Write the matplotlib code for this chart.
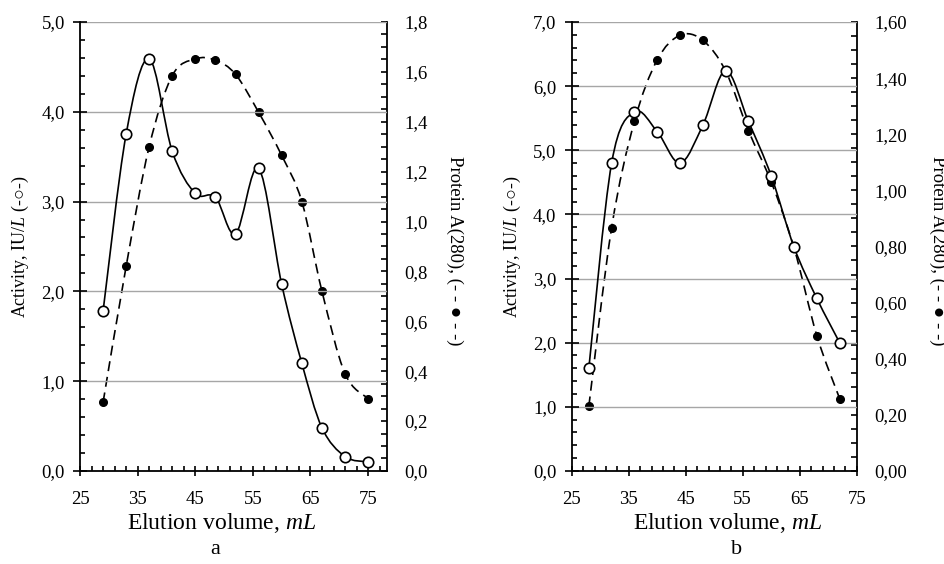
import matplotlib
matplotlib.use("Agg")
import matplotlib.pyplot as plt
import numpy as np
from matplotlib.path import Path
from matplotlib.patches import PathPatch
from matplotlib.ticker import MultipleLocator, FuncFormatter

plt.rcParams['font.family'] = ['Liberation Serif', 'DejaVu Serif']
plt.rcParams['mathtext.fontset'] = 'custom'
plt.rcParams['mathtext.rm'] = 'Liberation Serif'
plt.rcParams['mathtext.it'] = 'Liberation Serif:italic'
plt.rcParams['mathtext.fallback'] = 'stix'

# panel a
vol_a = [29, 33, 37, 41, 45, 48.5, 52, 56, 60, 63.5, 67, 71, 75]
act_a = [1.78, 3.75, 4.59, 3.56, 3.09, 3.05, 2.64, 3.37, 2.08, 1.20, 0.48, 0.16, 0.10]
prot_a = [0.275, 0.82, 1.30, 1.585, 1.652, 1.647, 1.59, 1.438, 1.265, 1.08, 0.72, 0.39, 0.29]

# panel b
vol_b = [28, 32, 36, 40, 44, 48, 52, 56, 60, 64, 68, 72]
act_b = [1.6, 4.8, 5.6, 5.29, 4.8, 5.39, 6.24, 5.45, 4.6, 3.49, 2.69, 2.0]
prot_b = [0.23, 0.867, 1.246, 1.465, 1.553, 1.535, 1.425, 1.213, 1.03, 0.795, 0.482, 0.258]


def smooth_path(x, y):
    # excel-like smoothed line: catmull-rom as cubic bezier segments
    p = np.column_stack([x, y]).astype(float)
    ext = np.vstack([p[0], p, p[-1]])
    verts = [p[0]]
    codes = [Path.MOVETO]
    for i in range(len(p) - 1):
        p0, p1, p2, p3 = ext[i], ext[i + 1], ext[i + 2], ext[i + 3]
        verts += [p1 + (p2 - p0) / 6, p2 - (p3 - p1) / 6, p2]
        codes += [Path.CURVE4] * 3
    return Path(verts, codes)


def comma(dec):
    return FuncFormatter(lambda v, pos: f"{v:.{dec}f}".replace('.', ','))


def panel(left, width, x, act, prot, xmax, ymax, y2max, y2dec, letter,
          ylx, y2lx, xlx, letx):
    ax = fig.add_axes([left, 0.165, width, 0.796])
    ax2 = ax.twinx()
    ax.set_zorder(2)
    ax2.set_zorder(1)
    ax.patch.set_visible(False)

    ax.add_patch(PathPatch(smooth_path(x, act), fill=False, color='black', lw=1.2, zorder=3))
    ax.plot(x, act, 'o', ms=7.5, mfc='white', mec='black', mew=1.2, zorder=4)
    ax2.add_patch(PathPatch(smooth_path(x, prot), fill=False, color='black', lw=1.2,
                            linestyle=(0, (6, 3.5))))
    ax2.plot(x, prot, 'o', ms=5.5, color='black')

    ax.set_xlim(25, xmax)
    ax.set_ylim(0, ymax)
    ax2.set_ylim(0, y2max)
    ax.xaxis.set_major_locator(MultipleLocator(10, offset=5))
    ax.xaxis.set_minor_locator(MultipleLocator(2, offset=1))
    ax.yaxis.set_major_locator(MultipleLocator(1))
    ax.yaxis.set_minor_locator(MultipleLocator(0.2))
    ax2.yaxis.set_major_locator(MultipleLocator(0.2))
    ax2.yaxis.set_minor_locator(MultipleLocator(0.05))
    ax.yaxis.set_major_formatter(comma(1))
    ax2.yaxis.set_major_formatter(comma(y2dec))

    ax.grid(axis='y', color='#a6a6a6', lw=1)
    for a in (ax, ax2):
        a.spines['top'].set_visible(False)
        for s in a.spines.values():
            s.set_linewidth(1.3)
    ax.spines['right'].set_visible(False)
    ax2.spines['left'].set_visible(False)
    ax2.spines['bottom'].set_visible(False)

    ax.tick_params(axis='y', which='major', direction='inout', length=10, width=1.2,
                   labelsize=13.5, pad=6)
    ax.tick_params(axis='x', which='major', direction='inout', length=7, width=1.2,
                   labelsize=13.5, pad=11)
    ax.tick_params(axis='both', which='minor', direction='in', length=3.5, width=1.2)
    ax2.tick_params(axis='y', which='both', direction='in', length=4.3, width=1.2,
                    labelsize=13.5, pad=12.5)

    ax.set_xlabel('Elution volume, $mL$', fontsize=17, va='center')
    ax.xaxis.set_label_coords(xlx, -0.117)
    ax.set_ylabel('Activity, IU/$L$ (-○-)', fontsize=13, va='center')
    ax.yaxis.set_label_coords(ylx, 0.5)
    ax2.set_ylabel('Protein A(280), (- - ● - -)', fontsize=13.5, rotation=270, va='center')
    ax2.yaxis.set_label_coords(y2lx, 0.49)
    ax.text(letx, -0.176, letter, transform=ax.transAxes, ha='center', va='center', fontsize=16)
    return ax, ax2


fig = plt.figure(figsize=(9.45, 5.64), dpi=100)
panel(0.0847, 0.3249, vol_a, act_a, prot_a, 78.3, 5, 1.8, 1, 'a',
      -0.195, 1.2215, 0.4625, 0.44)
panel(0.605, 0.3016, vol_b, act_b, prot_b, 75, 7, 1.6, 2, 'b',
      -0.2095, 1.285, 0.547, 0.58)

fig.savefig('out.png', dpi=100)
